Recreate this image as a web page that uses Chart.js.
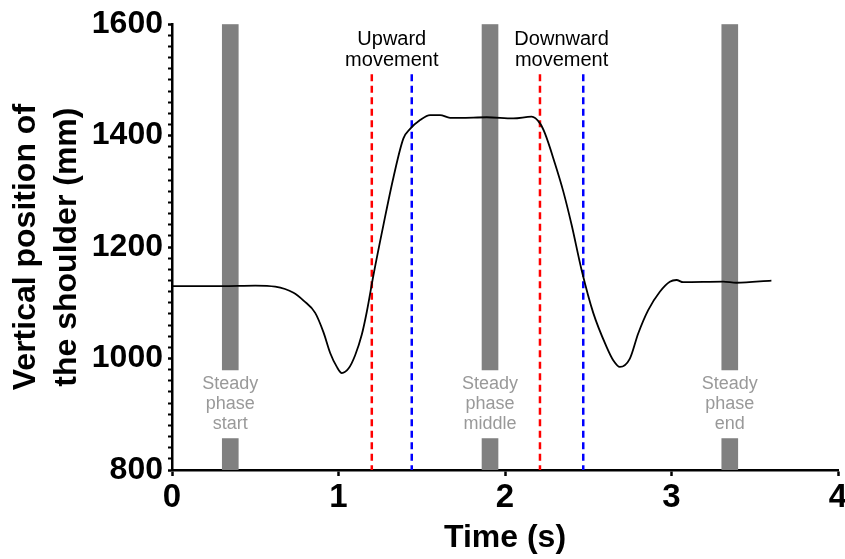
<!DOCTYPE html>
<html>
<head>
<meta charset="utf-8">
<script src="https://cdn.jsdelivr.net/npm/chart.js@4/dist/chart.umd.min.js"></script>
<style>
  html, body { margin: 0; padding: 0; background: #fff; }
</style>
</head>
<body>
<canvas id="myChart" width="845" height="559"></canvas>
<script>
// shoulder trace
const timeS = [0, 0.3, 0.5, 0.62, 0.73, 0.79, 0.86, 0.91, 0.95, 0.99, 1.02, 1.06, 1.1, 1.14, 1.17, 1.21,
  1.27, 1.33, 1.39, 1.43, 1.49, 1.55, 1.61, 1.67, 1.73, 1.89, 2.05, 2.16, 2.21, 2.24, 2.3, 2.35, 2.4,
  2.46, 2.53, 2.61, 2.65, 2.69, 2.75, 2.8, 2.86, 2.93, 2.99, 3.03, 3.07, 3.31, 3.39, 3.6];
const shoulderMm = [1130, 1130, 1131, 1129, 1118, 1104, 1082, 1047, 1010, 985, 974, 982, 1006, 1043, 1084, 1150,
  1240, 1325, 1395, 1412, 1428, 1437, 1437, 1432, 1432, 1433, 1431, 1434, 1422, 1404, 1350, 1300, 1240,
  1159, 1082, 1021, 997, 985, 1000, 1045, 1087, 1120, 1138, 1141, 1137, 1138, 1136, 1140];

// movement markers (red = start, blue = end)
const moveLabels = [["Upward", "movement"], ["Downward", "movement"]];
const moveStart = [1.2, 2.21];
const moveEnd = [1.44, 2.47];
const markerTop = 1510;

// steady phase bands
const phaseLabels = [["Steady", "phase", "start"], ["Steady", "phase", "middle"], ["Steady", "phase", "end"]];
const phaseFrom = [0.3, 1.86, 3.3];
const phaseTo = [0.4, 1.96, 3.4];
const phaseGap = [857, 979]; // where the label sits, in mm

const yTicks = { min: 800, max: 1600, major: 200, minor: 20 };
const xTicks = { min: 0, max: 4, step: 1 };

Chart.defaults.font.family = "'Liberation Sans', Arial, sans-serif";
Chart.defaults.color = "#000";

const pts = timeS.map((t, i) => ({ x: t, y: shoulderMm[i] }));

const markerSets = [];
moveStart.forEach((t, i) => {
  markerSets.push({ x: t, color: "#ff0000" });
  markerSets.push({ x: moveEnd[i], color: "#0000ff" });
});

const phasePlugin = {
  id: "phases",
  beforeDatasetsDraw(chart) {
    const { ctx, chartArea, scales: { x, y } } = chart;
    const gTop = y.getPixelForValue(phaseGap[1]);
    const gBot = y.getPixelForValue(phaseGap[0]);
    const mid = (gTop + gBot) / 2;
    ctx.save();
    phaseFrom.forEach((s, i) => {
      const x0 = x.getPixelForValue(s);
      const x1 = x.getPixelForValue(phaseTo[i]);
      ctx.fillStyle = "#808080";
      ctx.fillRect(x0, chartArea.top, x1 - x0, gTop - chartArea.top);
      ctx.fillRect(x0, gBot, x1 - x0, chartArea.bottom - gBot);
      ctx.fillStyle = "#999999";
      ctx.font = "18px 'Liberation Sans', Arial, sans-serif";
      ctx.textAlign = "center";
      ctx.textBaseline = "middle";
      phaseLabels[i].forEach((line, k) => {
        ctx.fillText(line, (x0 + x1) / 2, mid + (k - 1) * 20);
      });
    });
    ctx.restore();
  },
  afterDatasetsDraw(chart) {
    const { ctx, scales: { x, y } } = chart;
    const top = y.getPixelForValue(markerTop);
    ctx.save();
    ctx.fillStyle = "#000";
    ctx.font = "20px 'Liberation Sans', Arial, sans-serif";
    ctx.textAlign = "center";
    ctx.textBaseline = "middle";
    moveLabels.forEach((lines, i) => {
      const cx = (x.getPixelForValue(moveStart[i]) + x.getPixelForValue(moveEnd[i])) / 2;
      ctx.fillText(lines[0], cx, top - 35);
      ctx.fillText(lines[1], cx, top - 14);
    });
    ctx.restore();
  }
};

const ctx = document.getElementById("myChart").getContext("2d");

new Chart(ctx, {
  type: "scatter",
  data: {
    datasets: [
      {
        data: pts,
        showLine: true,
        borderColor: "#000",
        borderWidth: 1.8,
        pointRadius: 0,
        cubicInterpolationMode: "monotone",
        order: 0
      },
      ...markerSets.map(m => ({
        data: [{ x: m.x, y: markerTop }, { x: m.x, y: yTicks.min }],
        showLine: true,
        borderColor: m.color,
        borderWidth: 2.5,
        borderDash: [7, 4.5],
        pointRadius: 0,
        order: 1
      }))
    ]
  },
  options: {
    responsive: false,
    animation: false,
    layout: { padding: { top: 24, right: 7, bottom: 0, left: 0 } },
    plugins: { legend: { display: false }, tooltip: { enabled: false } },
    scales: {
      x: {
        type: "linear",
        min: xTicks.min,
        max: xTicks.max,
        ticks: { stepSize: xTicks.step, font: { size: 33, weight: "bold" }, padding: 2, color: "#000" },
        grid: { drawOnChartArea: false, tickLength: 6, tickWidth: 2.5, tickColor: "#000" },
        border: { color: "#000", width: 2.5 },
        title: {
          display: true,
          text: "Time (s)",
          color: "#000",
          font: { size: 32, weight: "bold" },
          padding: { top: 0, bottom: 2 }
        },
        afterFit(s) {
          s.height = 89;
          s.paddingRight = 0;
          s.paddingLeft = 0;
        }
      },
      y: {
        min: yTicks.min,
        max: yTicks.max,
        ticks: {
          stepSize: yTicks.minor,
          autoSkip: false,
          maxTicksLimit: 60,
          padding: 5,
          color: "#000",
          font: { size: 32, weight: "bold" },
          callback: v => (v % yTicks.major === 0 ? String(v) : "")
        },
        grid: {
          drawOnChartArea: false,
          tickLength: 4,
          tickColor: "#000",
          tickWidth: c => (c.tick && c.tick.value % yTicks.major === 0 ? 2.5 : 2)
        },
        border: { color: "#000", width: 2.5 },
        title: {
          display: true,
          text: ["Vertical position of", "the shoulder (mm)"],
          color: "#000",
          font: { size: 32, weight: "bold", lineHeight: 1.28 },
          padding: { top: 6, bottom: 0 }
        },
        afterFit(s) {
          s.width = 172;
        }
      }
    }
  },
  plugins: [phasePlugin]
});
</script>
</body>
</html>
